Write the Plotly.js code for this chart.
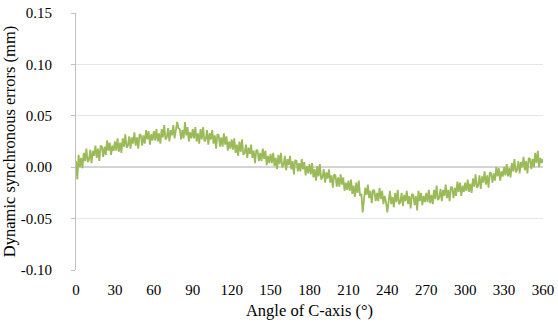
<!DOCTYPE html>
<html><head><meta charset="utf-8">
<script src="https://cdn.plot.ly/plotly-3.0.1.min.js"></script>
<style>html,body{margin:0;padding:0;background:#fff}#c{width:558px;height:327px}</style>
</head><body><div id="c"></div>
<script>
// Angle of C-axis (degrees), one reading per degree
const angles = Array.from({length: 361}, (_, i) => i);
// Dynamic synchronous errors (mm)
const errors = [
 0.006,-0.012,0.012,0.000,0.009,-0.001,0.014,0.006,0.018,0.005,
 0.007,0.017,0.004,0.016,0.011,0.021,0.009,0.018,0.006,0.021,
 0.020,0.010,0.020,0.012,0.026,0.016,0.024,0.012,0.021,0.016,
 0.025,0.016,0.028,0.015,0.024,0.014,0.028,0.020,0.032,0.019,
 0.021,0.030,0.018,0.029,0.023,0.034,0.021,0.029,0.018,0.032,
 0.031,0.021,0.031,0.023,0.036,0.027,0.035,0.022,0.032,0.026,
 0.035,0.026,0.037,0.025,0.033,0.023,0.037,0.029,0.041,0.027,
 0.029,0.038,0.025,0.036,0.031,0.041,0.028,0.036,0.044,0.038,
 0.037,0.027,0.036,0.028,0.044,0.031,0.039,0.025,0.034,0.028,
 0.037,0.028,0.039,0.025,0.033,0.023,0.037,0.027,0.039,0.025,
 0.027,0.036,0.022,0.033,0.027,0.036,0.023,0.031,0.018,0.032,
 0.031,0.020,0.029,0.020,0.033,0.022,0.030,0.016,0.025,0.018,
 0.027,0.017,0.028,0.014,0.022,0.011,0.025,0.015,0.027,0.012,
 0.014,0.022,0.009,0.019,0.013,0.022,0.009,0.016,0.004,0.017,
 0.016,0.006,0.014,0.006,0.018,0.008,0.016,0.002,0.011,0.004,
 0.013,0.004,0.014,0.001,0.009,-0.002,0.012,0.003,0.014,0.000,
 0.002,0.011,-0.003,0.008,0.002,0.011,-0.002,0.006,-0.007,0.007,
 0.006,-0.004,0.004,-0.004,0.008,-0.002,0.005,-0.008,0.001,-0.006,
 0.003,-0.007,0.004,-0.010,-0.002,-0.013,0.001,-0.009,0.003,-0.012,
 -0.010,-0.002,-0.015,-0.005,-0.011,-0.002,-0.015,-0.008,-0.020,-0.007,
 -0.008,-0.019,-0.010,-0.019,-0.007,-0.017,-0.010,-0.023,-0.015,-0.022,
 -0.013,-0.023,-0.012,-0.026,-0.018,-0.029,-0.015,-0.025,-0.013,-0.028,
 -0.026,-0.044,-0.031,-0.020,-0.027,-0.017,-0.030,-0.023,-0.035,-0.022,
 -0.023,-0.033,-0.025,-0.033,-0.020,-0.031,-0.023,-0.036,-0.028,-0.034,
 -0.044,-0.034,-0.023,-0.036,-0.029,-0.039,-0.025,-0.034,-0.022,-0.036,
 -0.034,-0.025,-0.038,-0.027,-0.033,-0.023,-0.036,-0.028,-0.040,-0.026,
 -0.027,-0.037,-0.028,-0.042,-0.023,-0.033,-0.025,-0.037,-0.028,-0.034,
 -0.025,-0.034,-0.022,-0.035,-0.027,-0.036,-0.022,-0.031,-0.018,-0.032,
 -0.030,-0.021,-0.033,-0.022,-0.028,-0.017,-0.030,-0.022,-0.033,-0.019,
 -0.020,-0.030,-0.020,-0.028,-0.014,-0.024,-0.015,-0.028,-0.018,-0.024,
 -0.015,-0.023,-0.012,-0.024,-0.016,-0.025,-0.011,-0.019,-0.007,-0.020,
 -0.018,-0.008,-0.021,-0.009,-0.015,-0.004,-0.017,-0.008,-0.020,-0.005,
 -0.006,-0.015,-0.006,-0.013,0.000,-0.009,-0.001,-0.013,-0.004,-0.009,
 0.000,-0.008,0.003,-0.009,-0.001,-0.010,0.004,-0.004,0.008,-0.005,
 -0.003,0.006,-0.006,0.005,0.000,0.010,-0.003,0.006,-0.006,0.009,
 0.008,-0.002,0.008,0.000,0.014,0.004,0.016,0.000,0.009,0.004,0.008
];
const xTicks = [0,30,60,90,120,150,180,210,240,270,300,330,360];
const yTicks = [-0.10,-0.05,0.00,0.05,0.10,0.15];
const yTickText = ['-0.10','-0.05','0.00','0.05','0.10','0.15'];

const tickFont = {family: 'Liberation Serif', size: 15, color: '#000'};
const titleFont = {family: 'Liberation Serif', size: 16.5, color: '#000'};
Plotly.newPlot('c', [{
  x: angles, y: errors, type: 'scatter', mode: 'lines',
  line: {color: '#9bbb59', width: 1.8}, hoverinfo: 'skip'
}], {
  width: 558, height: 327,
  margin: {l: 76, r: 15, t: 13, b: 57},
  paper_bgcolor: '#fff', plot_bgcolor: '#fff',
  showlegend: false, font: tickFont,
  xaxis: {range: [0, 360], tickvals: xTicks, ticktext: xTicks.map(String),
    showgrid: false, zeroline: false, showline: false, ticks: '',
    ticklabelstandoff: 9, tickfont: tickFont,
    title: {text: 'Angle of C-axis (°)', font: titleFont, standoff: 7}},
  yaxis: {range: [-0.10, 0.15], tickvals: yTicks, ticktext: yTickText,
    showgrid: true, gridcolor: '#dfe6ef', gridwidth: 1,
    zeroline: true, zerolinecolor: '#d4d4d4', zerolinewidth: 2,
    showline: true, linecolor: '#bfbfbf', linewidth: 1,
    ticks: 'outside', ticklen: 4, tickcolor: '#bfbfbf',
    ticklabelstandoff: 16, tickfont: tickFont,
    title: {text: 'Dynamic synchronous errors (mm)', font: titleFont, standoff: 6}}
}, {staticPlot: true});
</script></body></html>
